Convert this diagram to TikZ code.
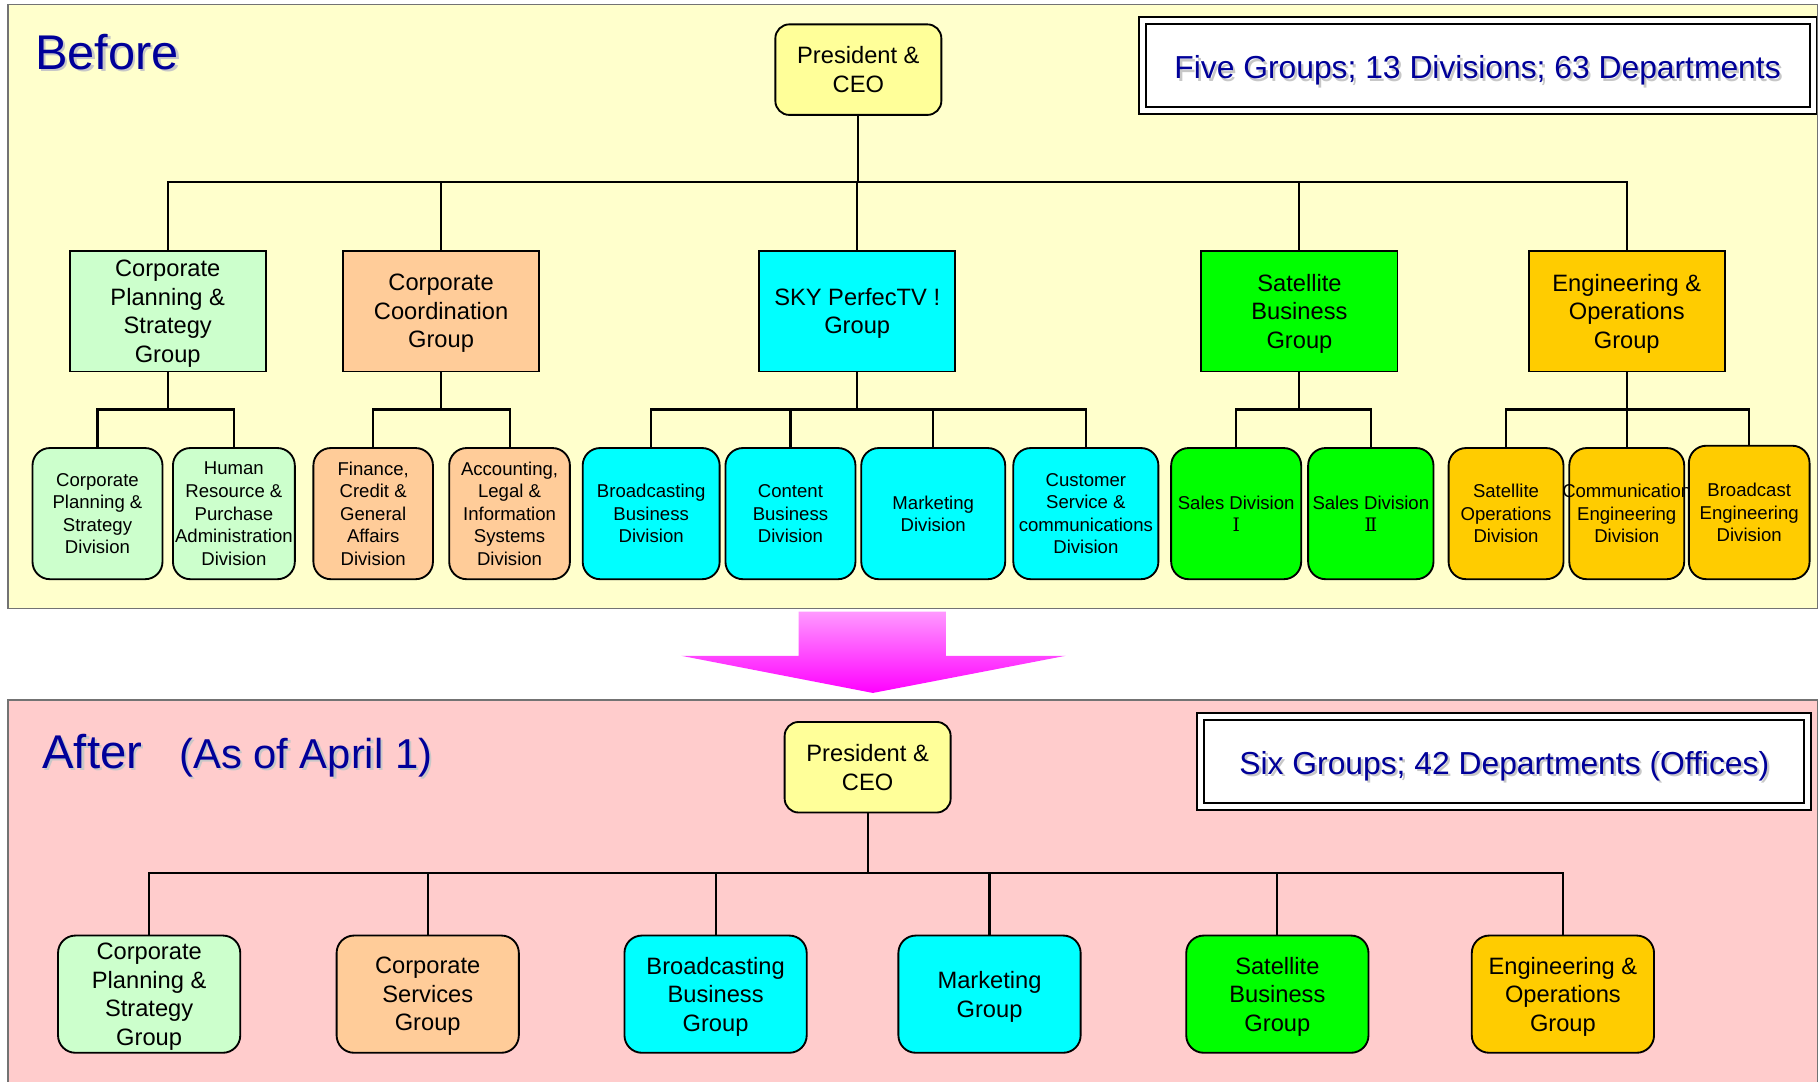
\documentclass[tikz,border=0pt]{standalone}
\usepackage{fontspec}
\setmainfont{Liberation Sans}
\newfontfamily\numeralfont{DejaVu Serif}
\usetikzlibrary{calc}

\definecolor{beforeBg}{HTML}{FFFFCC}
\definecolor{afterBg}{HTML}{FFCCCC}
\definecolor{ceoFill}{HTML}{FFFF99}
\definecolor{cpsFill}{HTML}{CCFFCC}
\definecolor{ccFill}{HTML}{FFCC99}
\definecolor{skyFill}{HTML}{00FFFF}
\definecolor{satFill}{HTML}{00FF00}
\definecolor{engFill}{HTML}{FFCC00}
\definecolor{titleBlue}{HTML}{000099}
\definecolor{arrowTop}{HTML}{FF99FF}
\definecolor{arrowBot}{HTML}{FF00FF}

% text with a soft drop shadow
\newcommand\shadowed[1]{\makebox[0pt][l]{\kern1pt\raisebox{-1pt}{\color{black!22}#1}}#1}

\tikzset{
  link/.style={line width=0.9pt},
  panel/.style={draw=black!55, line width=0.6pt},
  ceobox/.style={draw, line width=0.8pt, fill=ceoFill, rounded corners=6pt,
    minimum width=71.5pt, minimum height=39pt, inner sep=0pt, align=center, text depth=0pt,
    font=\fontsize{10.2}{12.3}\selectfont},
  grpbox/.style={draw, line width=0.8pt, minimum width=84.5pt, minimum height=52pt,
    inner sep=0pt, align=center, text depth=0pt, font=\fontsize{10.2}{12.3}\selectfont},
  newbox/.style={draw, line width=0.8pt, rounded corners=7.5pt, minimum width=78.5pt,
    minimum height=50.5pt, inner sep=0pt, align=center, text depth=0pt,
    font=\fontsize{10.2}{12.3}\selectfont},
  divbox/.style={draw, line width=0.8pt, rounded corners=7.5pt, minimum height=56.5pt,
    inner sep=0pt, align=center, text depth=0pt, font=\fontsize{8}{9.7}\selectfont},
  sumbox/.style={draw, fill=white, line width=0.8pt, double, double distance=2.2pt,
    minimum height=38.5pt, inner sep=0pt, text depth=0pt, text=titleBlue,
    font=\fontsize{13.7}{16}\selectfont},
  heading/.style={anchor=base west, inner sep=0pt, text=titleBlue}
}

\begin{document}
\begin{tikzpicture}[x=0.5pt, y=-0.5pt]
  \useasboundingbox (0,0) rectangle (1568,932);

  % the two panels
  \draw[panel, fill=beforeBg] (7,4) rectangle (1566,524);
  \draw[panel, fill=afterBg] (7,603) rectangle (1566,936);

  % big arrow between them
  \shade[top color=arrowTop, bottom color=arrowBot]
    (688,527) -- (815,527) -- (815,565) -- (918,565) -- (752,597) -- (587,565) -- (688,565) -- cycle;

  % ---------- before ----------
  \node[heading, font=\fontsize{21}{25}\selectfont] (before) at (30,60) {\shadowed{Before}};
  \node[sumbox, minimum width=289pt] (fiveBox) at (1273,56.5)
    {\raisebox{-1.5pt}{\shadowed{Five Groups; 13 Divisions; 63 Departments}}};

  \node[ceobox] (ceoB) at (739.5,60) {President \&\\CEO};

  \node[grpbox, fill=cpsFill] (gCps) at (144.5,268) {Corporate\\Planning \&\\Strategy\\Group};
  \node[grpbox, fill=ccFill]  (gCc)  at (380,268)   {Corporate\\Coordination\\Group};
  \node[grpbox, fill=skyFill] (gSky) at (738.5,268) {SKY PerfecTV !\\Group};
  \node[grpbox, fill=satFill] (gSat) at (1119.5,268) {Satellite\\Business\\Group};
  \node[grpbox, fill=engFill] (gEng) at (1401.5,268) {Engineering \&\\Operations\\Group};

  \node[divbox, fill=cpsFill, minimum width=56pt]   (dCps) at (84,442.5)   {Corporate\\Planning \&\\Strategy\\Division};
  \node[divbox, fill=cpsFill, minimum width=52.5pt] (dHr)  at (201.5,442.5) {Human\\Resource \&\\Purchase\\Administration\\Division};
  \node[divbox, fill=ccFill, minimum width=51.5pt]  (dFin) at (321.5,442.5) {Finance,\\Credit \&\\General\\Affairs\\Division};
  \node[divbox, fill=ccFill, minimum width=52pt]    (dAcc) at (439,442.5)   {Accounting,\\Legal \&\\Information\\Systems\\Division};
  \node[divbox, fill=skyFill, minimum width=59pt]   (dBro) at (561,442.5)   {Broadcasting\\Business\\Division};
  \node[divbox, fill=skyFill, minimum width=56pt]   (dCon) at (681,442.5)   {Content\\Business\\Division};
  \node[divbox, fill=skyFill, minimum width=62pt]   (dMkt) at (804,442.5)   {Marketing\\Division};
  \node[divbox, fill=skyFill, minimum width=62.5pt] (dCus) at (935.5,442.5) {Customer\\Service \&\\communications\\Division};
  \node[divbox, fill=satFill, minimum width=56pt]   (dSal1) at (1065,442.5) {Sales Division\\{\numeralfont Ⅰ}};
  \node[divbox, fill=satFill, minimum width=54pt]   (dSal2) at (1181,442.5) {Sales Division\\{\numeralfont Ⅱ}};
  \node[divbox, fill=engFill, minimum width=49.5pt] (dSop) at (1297.5,442.5) {Satellite\\Operations\\Division};
  \node[divbox, fill=engFill, minimum width=49.5pt] (dCom) at (1401.5,442.5) {\makebox[0pt]{Communication}\\Engineering\\Division};
  \node[divbox, fill=engFill, minimum width=52pt, minimum height=57.5pt] (dBen) at (1507,441.5) {Broadcast\\Engineering\\Division};

  \coordinate (busB) at (739.5,157);
  \draw[link] (ceoB.south) -- (busB);
  \foreach \g in {gCps,gCc,gSky,gSat,gEng}
    \draw[link] (busB) -| (\g.north);
  \foreach \g/\d in {gCps/dCps, gCps/dHr, gCc/dFin, gCc/dAcc, gSky/dBro, gSky/dCon, gSky/dMkt,
      gSky/dCus, gSat/dSal1, gSat/dSal2, gEng/dSop, gEng/dCom, gEng/dBen}
    \draw[link] (\g.south) -- ++(0,32) -| (\d.north);

  % ---------- after ----------
  \node[heading, font=\fontsize{20.4}{24}\selectfont] (after) at (36,662) {\shadowed{After}};
  \node[heading, font=\fontsize{18}{22}\selectfont] (asOf) at (154,662) {\shadowed{(As of April 1)}};
  \node[sumbox, minimum width=261.5pt] (sixBox) at (1296,656)
    {\raisebox{-1pt}{\shadowed{Six Groups; 42 Departments (Offices)}}};

  \node[ceobox] (ceoA) at (747.5,661) {President \&\\CEO};

  \node[newbox, fill=cpsFill] (aCps) at (128.5,856.5)  {Corporate\\Planning \&\\Strategy\\Group};
  \node[newbox, fill=ccFill]  (aCsv) at (368.5,856.5)  {Corporate\\Services\\Group};
  \node[newbox, fill=skyFill] (aBro) at (616.5,856.5)  {Broadcasting\\Business\\Group};
  \node[newbox, fill=skyFill] (aMkt) at (852.5,856.5)  {Marketing\\Group};
  \node[newbox, fill=satFill] (aSat) at (1100.5,856.5) {Satellite\\Business\\Group};
  \node[newbox, fill=engFill] (aEng) at (1346.5,856.5) {Engineering \&\\Operations\\Group};

  \coordinate (busA) at (747.5,752);
  \draw[link] (ceoA.south) -- (busA);
  \foreach \g in {aCps,aCsv,aBro,aMkt,aSat,aEng}
    \draw[link] (busA) -| (\g.north);
\end{tikzpicture}
\end{document}
